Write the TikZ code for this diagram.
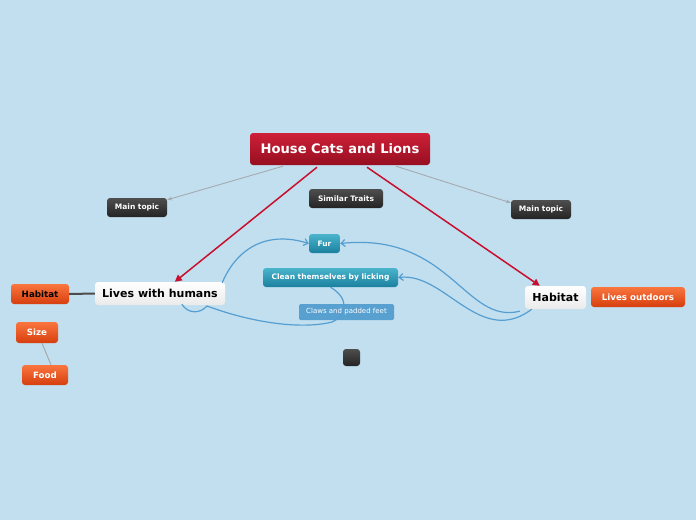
\documentclass[tikz,border=0pt]{standalone}
\usepackage{fontspec}
\setmainfont{DejaVu Sans}
\usetikzlibrary{arrows.meta,calc}
\definecolor{bg}{RGB}{194,223,240}
\definecolor{redtop}{RGB}{206,32,56}
\definecolor{redbot}{RGB}{150,14,32}
\definecolor{darktop}{RGB}{78,78,78}
\definecolor{darkbot}{RGB}{36,36,36}
\definecolor{tealtop}{RGB}{74,180,204}
\definecolor{tealbot}{RGB}{26,128,158}
\definecolor{orangetop}{RGB}{250,118,62}
\definecolor{orangebot}{RGB}{214,62,14}
\definecolor{clawcol}{RGB}{88,160,208}
\definecolor{curvecol}{RGB}{86,158,208}
\definecolor{redline}{RGB}{200,16,46}
\definecolor{grayline}{RGB}{165,170,175}
\tikzset{
  box/.style={rounded corners=3pt, inner sep=0pt, align=center},
  redbox/.style={box, top color=redtop, bottom color=redbot, text=white, font=\fontsize{13.1}{15}\selectfont\bfseries},
  darkbox/.style={box, top color=darktop, bottom color=darkbot, text=white, font=\fontsize{7.5}{8}\selectfont\bfseries},
  whitebox/.style={box, top color=white, bottom color=black!8, text=black, font=\fontsize{11}{12}\selectfont\bfseries},
  orangebox/.style={box, top color=orangetop, bottom color=orangebot, text=white, font=\fontsize{8.7}{9}\selectfont\bfseries},
  tealbox/.style={box, top color=tealtop, bottom color=tealbot, text=white, font=\fontsize{7.5}{8}\selectfont\bfseries},
  clawbox/.style={box, fill=clawcol, rounded corners=1.5pt, text=white, font=\fontsize{7}{8}\selectfont},
  redarrow/.style={draw=redline, line width=1.5pt, -{Triangle[length=7pt,width=7pt]}},
  grayarrow/.style={draw=grayline, line width=0.9pt, -{Stealth[length=5pt,width=4pt]}},
  bluecurve/.style={draw=curvecol, line width=1.2pt},
  bluearrow/.style={bluecurve, -{Straight Barb[length=4pt,width=7pt]}},
}
\begin{document}
\begin{tikzpicture}[x=1pt,y=-1pt]
\fill[bg] (0,0) rectangle (696,520);
\useasboundingbox (0,0) rectangle (696,520);

\node[redbox, minimum width=180pt, minimum height=32pt] (central) at (340,149) {House Cats and Lions};
\node[darkbox, minimum width=60pt, minimum height=19pt] (mtl) at (137,207.5) {Main topic};
\node[darkbox, minimum width=74pt, minimum height=19pt] (similar) at (346,198.5) {Similar Traits};
\node[darkbox, minimum width=60pt, minimum height=19pt] (mtr) at (541,209.5) {Main topic};
\node[whitebox, minimum width=130pt, minimum height=23pt] (lwh) at (160,293.5) {Lives with humans};
\node[orangebox, minimum width=58pt, minimum height=20pt, text=black] (habl) at (40,294) {Habitat};
\node[orangebox, minimum width=42pt, minimum height=21pt] (size) at (37,332.5) {Size};
\node[orangebox, minimum width=46pt, minimum height=20pt] (food) at (45,375) {Food};
\node[tealbox, minimum width=31pt, minimum height=19pt] (fur) at (324.5,243.5) {Fur};
\node[tealbox, minimum width=135pt, minimum height=19pt] (clean) at (330.5,277.5) {Clean themselves by licking};
\node[clawbox, minimum width=95pt, minimum height=16pt] (claws) at (346.5,312) {Claws and padded feet};
\node[whitebox, minimum width=61pt, minimum height=23pt] (habr) at (555.5,297.5) {Habitat};
\node[orangebox, minimum width=94pt, minimum height=20pt] (out) at (638,297) {Lives outdoors};
\node[box, top color=darktop, bottom color=darkbot, minimum width=17pt, minimum height=17pt] (blank) at (351.5,357.5) {};

% main connectors
\draw[grayarrow] ($(central.south)+(-57,1)$) -- ($(mtl.north east)+(0,2)$);
\draw[grayarrow] ($(central.south)+(56,1)$) -- ($(mtr.north west)+(0,3)$);
\draw[redarrow] ($(central.south)+(-23,2)$) -- ($(lwh.north west)+(80,0)$);
\draw[redarrow] ($(central.south)+(27,2)$) -- ($(habr.north west)+(15,0)$);

% side connectors
\draw[draw=black!70, line width=2pt] (habl.east) -- (lwh.west);
\draw[draw=grayline, line width=1pt] ($(size.south)+(5,0)$) -- ($(food.north)+(6,0)$);

% relationship curves
\draw[bluearrow] ($(lwh.north east)+(-3,1)$) .. controls (236,250) and (265,230) .. (fur.west);
\draw[bluecurve] ($(lwh.south west)+(87,-1)$) .. controls (188,314) and (200,314) .. (207,306)
  .. controls (250,322) and (300,330) .. (332,322)
  .. controls (348,315) and (349,298) .. (clean.south);
\draw[bluearrow] ($(habr.south west)+(-5,2)$) .. controls (465,325) and (450,232) .. (fur.east);
\draw[bluearrow] ($(habr.south west)+(7,0)$) .. controls (480,348) and (445,272) .. (clean.east);
\end{tikzpicture}
\end{document}
